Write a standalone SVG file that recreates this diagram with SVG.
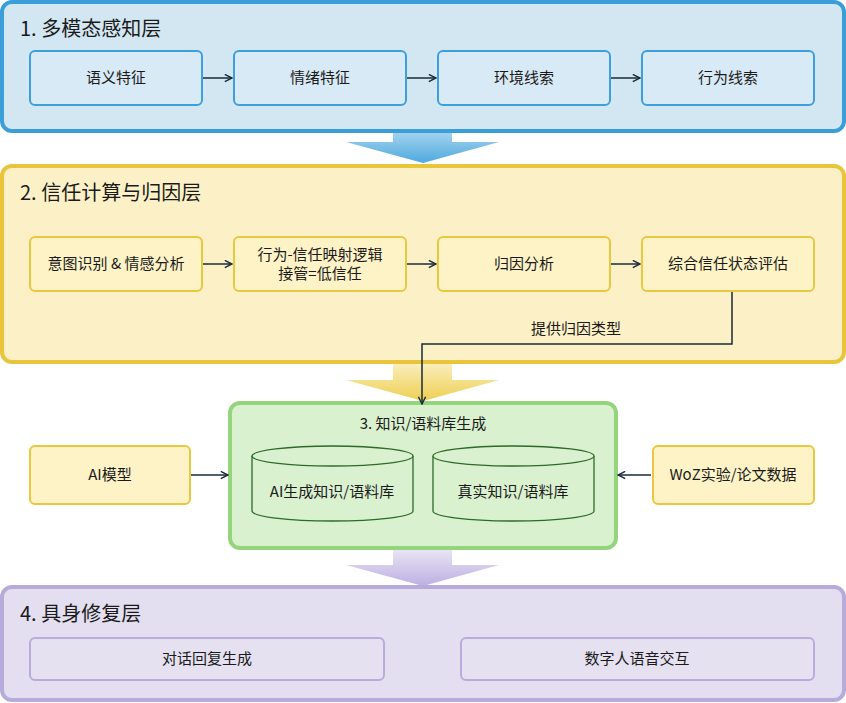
<svg xmlns="http://www.w3.org/2000/svg" width="846" height="703" viewBox="0 0 846 703">
<defs>
<style>
text{font-family:"Noto Sans CJK SC","Liberation Sans",sans-serif;fill:#1a1a1a}
.t{font-size:20px;font-weight:400}
.n{font-size:15px;text-anchor:middle}
.b1{fill:#d8eaf6;stroke:#3ea0da;stroke-width:2}
.b2{fill:#fdf3c6;stroke:#e9c73e;stroke-width:2}
.b4{fill:#e6e1f1;stroke:#b9acdb;stroke-width:2}
.c{stroke:#1a2a3a;stroke-width:1.5;fill:none;marker-end:url(#ah)}
</style>
<marker id="ah" viewBox="0 0 10 10" refX="9" refY="5" markerWidth="9" markerHeight="9" markerUnits="userSpaceOnUse" orient="auto"><path d="M1,1L9,5L1,9" fill="none" stroke="#1a2a3a" stroke-width="1.6"/></marker>
<linearGradient id="gb" x1="0" y1="0" x2="0" y2="1"><stop offset="0" stop-color="#bfe0f3"/><stop offset="1" stop-color="#3aa0da"/></linearGradient>
<linearGradient id="gy" x1="0" y1="0" x2="0" y2="1"><stop offset="0" stop-color="#fbf0c0"/><stop offset="1" stop-color="#ecc93e"/></linearGradient>
<linearGradient id="gp" x1="0" y1="0" x2="0" y2="1"><stop offset="0" stop-color="#ece8f6"/><stop offset="1" stop-color="#b5a6de"/></linearGradient>
</defs>
<g id="bigarrows">
<path d="M393,120H452V142H499L423,163L346,142H393Z" fill="url(#gb)" opacity="0.9"/>
<path d="M393,360H452V380H499L423,401L346,380H393Z" fill="url(#gy)" opacity="0.9"/>
<path d="M393,546H452V565H499L423,586L346,565H393Z" fill="url(#gp)" opacity="0.9"/>
</g>
<g id="layer1">
<rect x="2" y="2" width="842" height="129" rx="10" fill="#d3e7f3" stroke="#3a9fd9" stroke-width="4"/>
<text class="t" x="20" y="36">1. 多模态感知层</text>
</g>
<g id="n11"><rect class="b1" x="30" y="51" width="172" height="54" rx="5"/><text class="n" x="116" y="83">语义特征</text></g>
<g id="n12"><rect class="b1" x="234" y="51" width="172" height="54" rx="5"/><text class="n" x="320" y="83">情绪特征</text></g>
<g id="n13"><rect class="b1" x="438" y="51" width="172" height="54" rx="5"/><text class="n" x="524" y="83">环境线索</text></g>
<g id="n14"><rect class="b1" x="642" y="51" width="172" height="54" rx="5"/><text class="n" x="728" y="83">行为线索</text></g>
<g id="layer2">
<rect x="2" y="166" width="842" height="196" rx="10" fill="#fcf1c6" stroke="#e8c53a" stroke-width="4"/>
<text class="t" x="20" y="200">2. 信任计算与归因层</text>
</g>
<g id="n21"><rect class="b2" x="30" y="237" width="172" height="54" rx="5"/><text class="n" x="116" y="269">意图识别 &amp; 情感分析</text></g>
<g id="n22"><rect class="b2" x="234" y="237" width="172" height="54" rx="5"/><text class="n" x="320" y="260">行为-信任映射逻辑</text><text class="n" x="320" y="279">接管=低信任</text></g>
<g id="n23"><rect class="b2" x="438" y="237" width="172" height="54" rx="5"/><text class="n" x="524" y="269">归因分析</text></g>
<g id="n24"><rect class="b2" x="642" y="237" width="172" height="54" rx="5"/><text class="n" x="728" y="269">综合信任状态评估</text></g>
<g id="layer3">
<rect x="230" y="403" width="386" height="145" rx="10" fill="#d9f1cf" stroke="#93d47d" stroke-width="4"/>
<text x="423" y="429" style="font-size:15px;text-anchor:middle">3. 知识/语料库生成</text>
</g>
<g id="db1"><path d="M252,456V511A80.5,10 0 0 0 413,511V456" fill="#d9f1cf" stroke="#2f6a2a" stroke-width="1.3"/><ellipse cx="332.5" cy="456" rx="80.5" ry="10" fill="#d9f1cf" stroke="#2f6a2a" stroke-width="1.3"/><text class="n" x="332" y="497">AI生成知识/语料库</text></g>
<g id="db2"><path d="M433,456V511A80.5,10 0 0 0 594,511V456" fill="#d9f1cf" stroke="#2f6a2a" stroke-width="1.3"/><ellipse cx="513.5" cy="456" rx="80.5" ry="10" fill="#d9f1cf" stroke="#2f6a2a" stroke-width="1.3"/><text class="n" x="513" y="497">真实知识/语料库</text></g>
<g id="ai"><rect class="b2" x="30" y="446" width="160" height="58" rx="5"/><text class="n" x="110" y="480">AI模型</text></g>
<g id="woz"><rect class="b2" x="653" y="446" width="161" height="58" rx="5"/><text class="n" x="733" y="480">WoZ实验/论文数据</text></g>
<g id="layer4">
<rect x="2" y="587" width="842" height="113" rx="10" fill="#e3dff0" stroke="#b7abda" stroke-width="4"/>
<text class="t" x="20" y="621">4. 具身修复层</text>
</g>
<g id="n41"><rect class="b4" x="30" y="638" width="354" height="42" rx="5"/><text class="n" x="207" y="664">对话回复生成</text></g>
<g id="n42"><rect class="b4" x="461" y="638" width="353" height="42" rx="5"/><text class="n" x="637" y="664">数字人语音交互</text></g>
<g id="connectors">
<path class="c" d="M203,78H232"/>
<path class="c" d="M407,78H436"/>
<path class="c" d="M611,78H640"/>
<path class="c" d="M203,264H232"/>
<path class="c" d="M407,264H436"/>
<path class="c" d="M611,264H640"/>
<path class="c" d="M732,292V344H422V404"/>
<text x="576" y="334" style="font-size:15px;text-anchor:middle">提供归因类型</text>
<path class="c" d="M191,475H228"/>
<path class="c" d="M651,475H618"/>
</g>
</svg>
